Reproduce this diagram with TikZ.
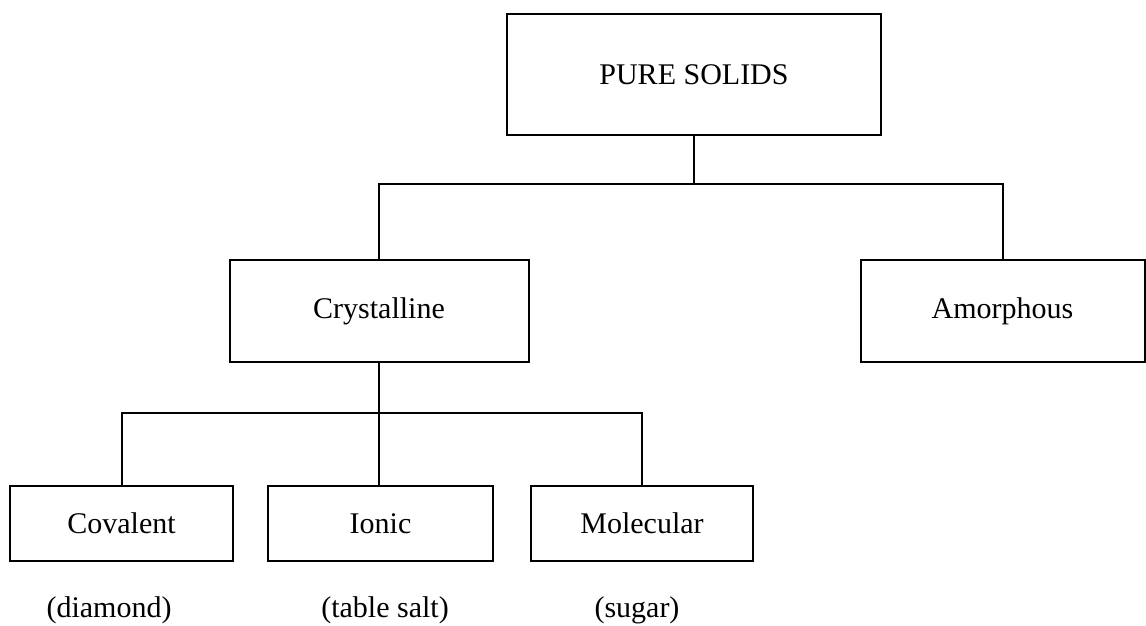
\documentclass[tikz,border=0pt]{standalone}
\usepackage{fontspec}
\setmainfont{Liberation Serif}
\begin{document}
\begin{tikzpicture}[x=1pt,y=-1pt,
  box/.style={draw=black, line width=2pt, fill=white, inner sep=0pt, font=\fontsize{30}{36}\selectfont},
  lab/.style={inner sep=0pt, font=\fontsize{30}{36}\selectfont},
  conn/.style={draw=black, line width=2pt}]
\useasboundingbox (0,0) rectangle (1146,625);
\node[box, minimum width=374, minimum height=121] (top) at (694,74.5) {PURE SOLIDS};
\node[box, minimum width=299, minimum height=102] (cry) at (379,311) {Crystalline};
\node[box, minimum width=284, minimum height=102] (amo) at (1002.5,311) {Amorphous};
\node[box, minimum width=223, minimum height=75] (cov) at (121.5,523.5) {Covalent};
\node[box, minimum width=225, minimum height=75] (ion) at (380.5,523.5) {Ionic};
\node[box, minimum width=222, minimum height=75] (mol) at (642,523.5) {Molecular};
\node[lab] (l1) at (109,610) {(diamond)};
\node[lab] (l2) at (385,610) {(table salt)};
\node[lab] (l3) at (637,610) {(sugar)};
\coordinate (j1) at (694,184);
\coordinate (j2) at (379,413);
\draw[conn] (top.south) -- (j1);
\draw[conn] (j1) -| (cry.north);
\draw[conn] (j1) -| (amo.north);
\draw[conn] (cry.south) -- (j2);
\draw[conn] (j2) -| (cov.north);
\draw[conn] (j2) -| (mol.north);
\draw[conn] (j2) -- (j2 |- ion.north);
\end{tikzpicture}
\end{document}
